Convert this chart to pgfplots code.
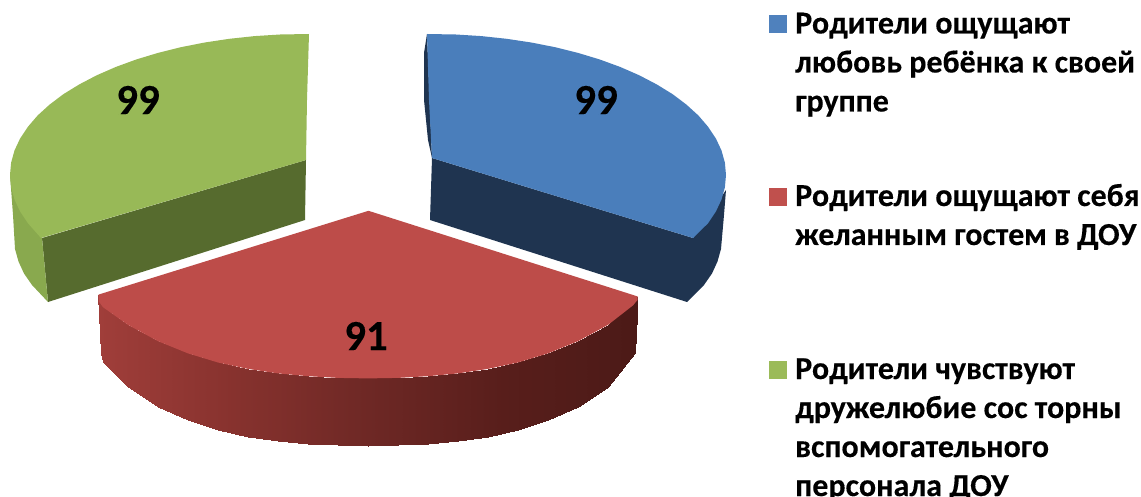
\documentclass[border=0pt]{standalone}
\usepackage{pgfplots}
\pgfplotsset{compat=1.18}
\usepackage{fontspec}
\setmainfont{Carlito}[BoldFeatures={FakeBold=0.25}]
\definecolor{gtop}{HTML}{98B957}
\definecolor{gside}{HTML}{89A94E}
\definecolor{gfront}{HTML}{566B2E}
\definecolor{btop}{HTML}{4A7EBB}
\definecolor{bfront}{HTML}{1F3450}
\definecolor{rtop}{HTML}{BD4C49}
\definecolor{lgb}{HTML}{4F81BD}
\definecolor{lgr}{HTML}{C0504D}
\definecolor{lgg}{HTML}{9BBB59}
\tikzset{
  poly/.style={draw=none},
  lab/.style={font=\fontsize{43}{43}\selectfont\bfseries, text=black, inner sep=0pt},
  leg/.style={font=\fontsize{32}{39}\selectfont\bfseries, text=black, inner sep=0pt, anchor=base west},
}
\begin{document}
\begin{tikzpicture}
\path[use as bounding box] (0,0) rectangle (1141pt,497pt);
\begin{axis}[
  at={(0,0)}, anchor=south west,
  width=1141pt, height=497pt, scale only axis,
  xmin=0, xmax=1141, ymin=0, ymax=497, y dir=reverse,
  hide axis, clip=false,
  colormap={wall}{color(0)=(rgb,255:red,160;green,62;blue,58) color(0.25)=(rgb,255:red,135;green,50;blue,46) color(0.5)=(rgb,255:red,110;green,40;blue,37) color(0.75)=(rgb,255:red,88;green,30;blue,27) color(1)=(rgb,255:red,76;green,26;blue,23)},
  point meta min=0, point meta max=1,
  every axis plot/.append style={forget plot},
]
% green slice
\addplot[poly, fill=gfront] coordinates {(42,238)(306,160)(305,220)(48,302)} --cycle;
\addplot[poly, fill=gside] coordinates {(10,175)(13,215)(15,249)(18.5,261.5)(24,273.5)(32,285)(48,302)(42,238)} --cycle;
\addplot[poly, fill=gtop] coordinates {(309,34)(307,100)(306,160)(41,238)(27.9,223.2)(20.1,211.5)(14.5,199.5)(11.1,187.3)(10,175)(11.1,162.7)(14.5,150.5)(20.1,138.5)(27.9,126.8)(37.7,115.4)(49.7,104.5)(63.5,94.1)(79.3,84.4)(96.7,75.3)(115.7,67)(136.2,59.5)(158,52.9)(180.9,47.2)(204.8,42.5)(229.4,38.8)(254.6,36.1)(280.2,34.5)} --cycle;
% blue slice
\addplot[poly, fill=bfront] coordinates {(432,158)(430,220)(687,302)(704,285)(712,273.5)(717.5,261.5)(721,249)(724,215)(726,190)(693,238)} --cycle;
\addplot[poly, fill=bfront] coordinates {(427,34)(424,53)(424,100)(428,140)(432,158)} --cycle;
\addplot[poly, fill=btop] coordinates {(427,34)(455.8,34.5)(481.4,36.1)(506.6,38.8)(531.2,42.5)(555.1,47.2)(578,52.9)(599.8,59.5)(620.3,67)(639.3,75.3)(656.7,84.4)(672.5,94.1)(686.3,104.5)(698.3,115.4)(708.1,126.8)(715.9,138.5)(721.5,150.5)(724.9,162.7)(726,175)(724.9,187.3)(721.5,199.5)(715.9,211.5)(708.1,223.2)(693,238)(432,158)(429,100)} --cycle;
% red slice: wall
\addplot[patch, patch type=rectangle, shader=interp, point meta=explicit]
table[meta=c] {
x y c
98.5 294.6 0
103 307.2 0.01
103 362.2 0.01
101 353.2 0
103 307.2 0.01
128 324.9 0.055
128 387.4 0.055
103 362.2 0.01
128 324.9 0.055
158 341.2 0.11
158 407.2 0.11
128 387.4 0.055
158 341.2 0.11
188 353.4 0.165
188 420.3 0.165
158 407.2 0.11
188 353.4 0.165
218 362.5 0.22
218 429.8 0.22
188 420.3 0.165
218 362.5 0.22
248 368.9 0.28
248 436.5 0.28
218 429.8 0.22
248 368.9 0.28
278 373.4 0.33
278 440.9 0.33
248 436.5 0.28
278 373.4 0.33
308 376.2 0.39
308 443.8 0.39
278 440.9 0.33
308 376.2 0.39
338 377.9 0.445
338 445.4 0.445
308 443.8 0.39
338 377.9 0.445
368 378.4 0.5
368 446 0.5
338 445.4 0.445
368 378.4 0.5
398 377.9 0.555
398 445.4 0.555
368 446 0.5
398 377.9 0.555
428 376.2 0.61
428 443.8 0.61
398 445.4 0.555
428 376.2 0.61
458 373.4 0.665
458 440.9 0.665
428 443.8 0.61
458 373.4 0.665
488 368.9 0.72
488 436.5 0.72
458 440.9 0.665
488 368.9 0.72
518 362.5 0.78
518 429.8 0.78
488 436.5 0.72
518 362.5 0.78
548 353.4 0.83
548 420.3 0.83
518 429.8 0.78
548 353.4 0.83
578 341.2 0.89
578 407.2 0.89
548 420.3 0.83
578 341.2 0.89
608 324.9 0.945
608 387.4 0.945
578 407.2 0.89
608 324.9 0.945
637.5 296.4 1
635 353.2 1
608 387.4 0.945
};
\addplot[poly, fill=rtop] coordinates {(368.5,210.8)(98.5,294.6)(99,301.8)(103,307.2)(128,324.9)(158,341.2)(188,353.4)(218,362.5)(248,368.9)(278,373.4)(308,376.2)(338,377.9)(368,378.4)(398,377.9)(428,376.2)(458,373.4)(488,368.9)(518,362.5)(548,353.4)(578,341.2)(608,324.9)(633,305.4)(637.5,300)(637.5,296.4)} --cycle;
% data labels
\node[lab] at (axis cs:138,100) {99};
\node[lab] at (axis cs:596,100) {99};
\node[lab] at (axis cs:366,336) {91};
% legend swatches
\addplot[draw=none, fill=lgb] coordinates {(769,15)(787,15)(787,33)(769,33)} --cycle;
\addplot[draw=none, fill=lgr] coordinates {(769,188)(787,188)(787,206)(769,206)} --cycle;
\addplot[draw=none, fill=lgg] coordinates {(769,361)(787,361)(787,379)(769,379)} --cycle;
% legend text
\node[leg] at (axis cs:795,33.5) {Родители ощущают};
\node[leg] at (axis cs:795,72.5) {любовь ребёнка к своей};
\node[leg] at (axis cs:795,111.5) {группе};
\node[leg] at (axis cs:795,206) {Родители ощущают себя};
\node[leg] at (axis cs:795,245) {желанным гостем в ДОУ};
\node[leg] at (axis cs:795,379) {Родители чувствуют};
\node[leg] at (axis cs:795,418) {дружелюбие сос торны};
\node[leg] at (axis cs:795,457) {вспомогательного};
\node[leg] at (axis cs:795,496) {персонала ДОУ};
\end{axis}
\end{tikzpicture}
\end{document}
